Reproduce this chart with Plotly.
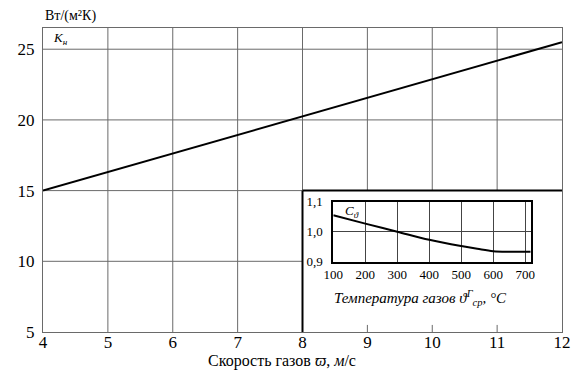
import plotly.graph_objects as go

# Main chart data: heat transfer coefficient vs gas velocity
velocity = [4, 12]
k_n = [15.0, 25.5]
x_ticks = [4, 5, 6, 7, 8, 9, 10, 11, 12]
y_ticks = [5, 10, 15, 20, 25]

# Inset data: correction coefficient vs gas temperature
temps = [100, 200, 300, 400, 500, 550, 600, 650, 717]
c_theta = [1.055, 1.027, 1.0, 0.973, 0.952, 0.943, 0.935, 0.933, 0.933]
inset_x_ticks = [100, 200, 300, 400, 500, 600, 700]
inset_y_ticks = [0.9, 1.0, 1.1]
inset_y_text = ["0,9", "1,0", "1,1"]

FONT = "Liberation Serif, Times New Roman, serif"
OFF = 8  # page body margin
W, H = 580 - OFF, 373 - OFF
# plot area in screen pixels
SX0, SX1, SY0, SY1 = 43, 562, 28, 332
L, R, T, B = SX0 - OFF, 580 - SX1, SY0 - OFF, 373 - SY1
PW, PH = SX1 - SX0, SY1 - SY0

def px(x):
    return (x - SX0) / PW

def py(y):
    return (SY1 - y) / PH

fig = go.Figure()
fig.add_trace(go.Scatter(x=velocity, y=k_n, mode="lines",
                         line=dict(color="black", width=2), showlegend=False,
                         xaxis="x", yaxis="y"))
fig.add_trace(go.Scatter(x=temps, y=c_theta, mode="lines", line_shape="spline",
                         line=dict(color="black", width=2), showlegend=False,
                         xaxis="x2", yaxis="y2"))

grid = dict(color="#6a6a6a", width=1)
shapes = []
ymin, ymax = 5, 26.5
for xv in [5, 6, 7]:
    shapes.append(dict(type="line", x0=xv, x1=xv, y0=ymin, y1=ymax, line=grid, layer="below"))
for xv in [8, 9, 10, 11]:
    shapes.append(dict(type="line", x0=xv, x1=xv, y0=15, y1=ymax, line=grid, layer="below"))
for xv in [9, 10, 11]:
    shapes.append(dict(type="line", x0=xv, x1=xv, y0=ymin, y1=5.5, line=grid, layer="below"))
for yv in [20, 25]:
    shapes.append(dict(type="line", x0=4, x1=12, y0=yv, y1=yv, line=grid, layer="below"))
for yv in [10, 15]:
    shapes.append(dict(type="line", x0=4, x1=8, y0=yv, y1=yv, line=grid, layer="below"))
# inset frame
frame = dict(color="black", width=2)
shapes.append(dict(type="line", x0=8, x1=8, y0=ymin, y1=15, line=frame, layer="below"))
shapes.append(dict(type="line", x0=8, x1=12, y0=15, y1=15, line=frame, layer="below"))

ix0, ix1 = px(333.3), px(530.7)
iy0, iy1 = py(261.7), py(201.7)

fig.update_layout(
    width=W, height=H,
    margin=dict(l=L, r=R, t=T, b=B),
    paper_bgcolor="white", plot_bgcolor="white",
    font=dict(family=FONT, color="black"),
    shapes=shapes,
    xaxis=dict(range=[4, 12], tickvals=x_ticks, showgrid=False, zeroline=False,
               showline=True, mirror=True, linecolor="#6a6a6a", linewidth=1,
               tickfont=dict(size=17, family=FONT), ticks="", ticklen=0,
               ticklabelstandoff=-5, automargin=False),
    yaxis=dict(range=[ymin, ymax], tickvals=y_ticks, showgrid=False, zeroline=False,
               showline=True, mirror=True, linecolor="#6a6a6a", linewidth=1,
               tickfont=dict(size=17, family=FONT), ticks="", ticklen=0,
               ticklabelstandoff=4, automargin=False),
    xaxis2=dict(domain=[ix0, ix1], anchor="y2", range=[100, 717],
                tickvals=inset_x_ticks, showgrid=True, gridcolor="#444", gridwidth=1.2,
                zeroline=False, showline=True, mirror=True, linecolor="black", linewidth=2,
                tickfont=dict(size=13, family=FONT), ticks="", ticklen=0,
                automargin=False),
    yaxis2=dict(domain=[iy0, iy1], anchor="x2", range=[0.9, 1.1],
                tickvals=inset_y_ticks, ticktext=inset_y_text, showgrid=True,
                gridcolor="#444", gridwidth=1.2, zeroline=False, showline=True, mirror=True,
                linecolor="black", linewidth=2, ticklen=0,
                tickfont=dict(size=13, family=FONT), ticks="", ticklabelstandoff=6,
                automargin=False),
    annotations=[
        dict(text="Вт/(м²К)", xref="paper", yref="paper",
             x=px(43), y=py(16), xanchor="left", yanchor="middle", showarrow=False,
             font=dict(size=14, family=FONT)),
        dict(text="<i>K<sub>н</sub></i>", xref="paper", yref="paper",
             x=px(60), y=py(38), xanchor="center", yanchor="middle", showarrow=False,
             font=dict(size=13, family=FONT)),
        dict(text="Скорость газов <i>ϖ</i>, <i>м</i>/с", xref="paper", yref="paper",
             x=px(282), y=py(361), xanchor="center", yanchor="middle", showarrow=False,
             font=dict(size=16, family=FONT)),
        dict(text="<i>C<sub>ϑ</sub></i>", xref="paper", yref="paper",
             x=px(352), y=py(211), xanchor="center", yanchor="middle", showarrow=False,
             font=dict(size=13, family=FONT)),
        dict(text="<i>Температура газов ϑ<sup>Г</sup><sub>ср</sub>, °С</i>", xref="paper",
             yref="paper", x=px(420), y=py(298), xanchor="center", yanchor="middle",
             showarrow=False, font=dict(size=15, family=FONT)),
    ],
)

fig.write_html("out.html")
